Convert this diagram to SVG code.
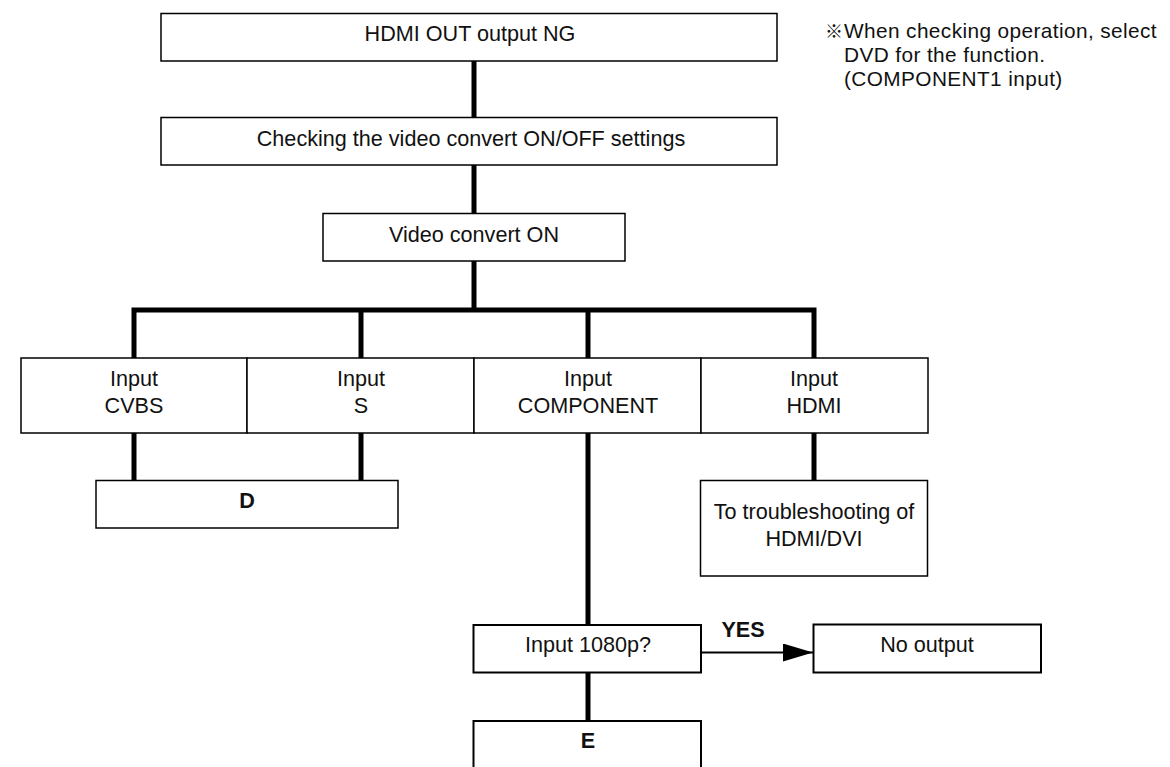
<svg xmlns="http://www.w3.org/2000/svg" width="1170" height="767" viewBox="0 0 1170 767">
<style>
  .box { fill: #ffffff; stroke: #000000; stroke-width: 1.5; }
  .box2 { fill: #ffffff; stroke: #000000; stroke-width: 2; }
  .t { font-family: "Liberation Sans", Arial, "Noto Sans CJK JP", sans-serif; font-size: 21.6px; fill: #111111; text-anchor: middle; }
  .b { font-weight: bold; }
  .note { font-family: "Liberation Sans", Arial, "Noto Sans CJK JP", sans-serif; font-size: 20.8px; letter-spacing: 0.4px; fill: #111111; }
  .wire { fill: none; stroke: #000000; stroke-width: 5; stroke-linejoin: miter; }
  .arrow { fill: none; stroke: #000000; stroke-width: 2; }
</style>
<defs>
  <marker id="ah" markerUnits="userSpaceOnUse" markerWidth="32" markerHeight="20" refX="30" refY="9" orient="auto">
    <polygon points="0,0 30,9 0,18" fill="#000000"/>
  </marker>
</defs>
<rect x="0" y="0" width="1170" height="767" fill="#ffffff"/>

<g id="connectors">
  <path class="wire" d="M474 61 V117"/>
  <path class="wire" d="M474 165 V213"/>
  <path class="wire" d="M474 261 V310"/>
  <path class="wire" d="M134 358 V310 H814 V358"/>
  <path class="wire" d="M361 310 V358"/>
  <path class="wire" d="M588 310 V358"/>
  <path class="wire" d="M134 433 V480"/>
  <path class="wire" d="M361 433 V480"/>
  <path class="wire" d="M814 433 V480"/>
  <path class="wire" d="M588 433 V625"/>
  <path class="wire" d="M588 673 V721"/>
  <line class="arrow" x1="701" y1="652.5" x2="813" y2="652.5" marker-end="url(#ah)"/>
  <text class="t b" x="743" y="637">YES</text>
</g>

<g id="n-hdmi-out-ng">
  <rect class="box" x="161" y="13.5" width="616" height="47.5"/>
  <text class="t" x="470" y="41">HDMI OUT output NG</text>
</g>

<g id="n-checking">
  <rect class="box" x="161" y="117.5" width="616" height="47.5"/>
  <text class="t" x="471" y="146">Checking the video convert ON/OFF settings</text>
</g>

<g id="n-video-on">
  <rect class="box" x="323" y="213.5" width="302" height="47.5"/>
  <text class="t" x="474" y="242">Video convert ON</text>
</g>

<g id="n-input-cvbs">
  <rect class="box" x="21" y="358" width="226" height="75"/>
  <text class="t" x="134" y="386">Input</text>
  <text class="t" x="134" y="413">CVBS</text>
</g>

<g id="n-input-s">
  <rect class="box" x="247" y="358" width="227" height="75"/>
  <text class="t" x="361" y="386">Input</text>
  <text class="t" x="361" y="413">S</text>
</g>

<g id="n-input-component">
  <rect class="box" x="474" y="358" width="227" height="75"/>
  <text class="t" x="588" y="386">Input</text>
  <text class="t" x="588" y="413">COMPONENT</text>
</g>

<g id="n-input-hdmi">
  <rect class="box" x="701" y="358" width="227" height="75"/>
  <text class="t" x="814" y="386">Input</text>
  <text class="t" x="814" y="413">HDMI</text>
</g>

<g id="n-d">
  <rect class="box" x="96" y="480.5" width="302" height="47.5"/>
  <text class="t b" x="247" y="508">D</text>
</g>

<g id="n-trouble-hdmi">
  <rect class="box" x="700.5" y="480.5" width="227" height="95.5"/>
  <text class="t" x="814" y="519">To troubleshooting of</text>
  <text class="t" x="814" y="546">HDMI/DVI</text>
</g>

<g id="n-input-1080p">
  <rect class="box2" x="473.5" y="625" width="227.5" height="47.5"/>
  <text class="t" x="588" y="652">Input 1080p?</text>
</g>

<g id="n-no-output">
  <rect class="box2" x="813.5" y="624.5" width="227.5" height="48"/>
  <text class="t" x="927" y="652">No output</text>
</g>

<g id="n-e">
  <rect class="box2" x="473.5" y="721" width="227.5" height="70"/>
  <text class="t b" x="588" y="748">E</text>
</g>

<g id="note">
  <text class="note" x="825" y="38" style="font-size:18px">※</text>
  <text class="note" x="844" y="38">When checking operation, select</text>
  <text class="note" x="844" y="62">DVD for the function.</text>
  <text class="note" x="844" y="86">(COMPONENT1 input)</text>
</g>
</svg>
